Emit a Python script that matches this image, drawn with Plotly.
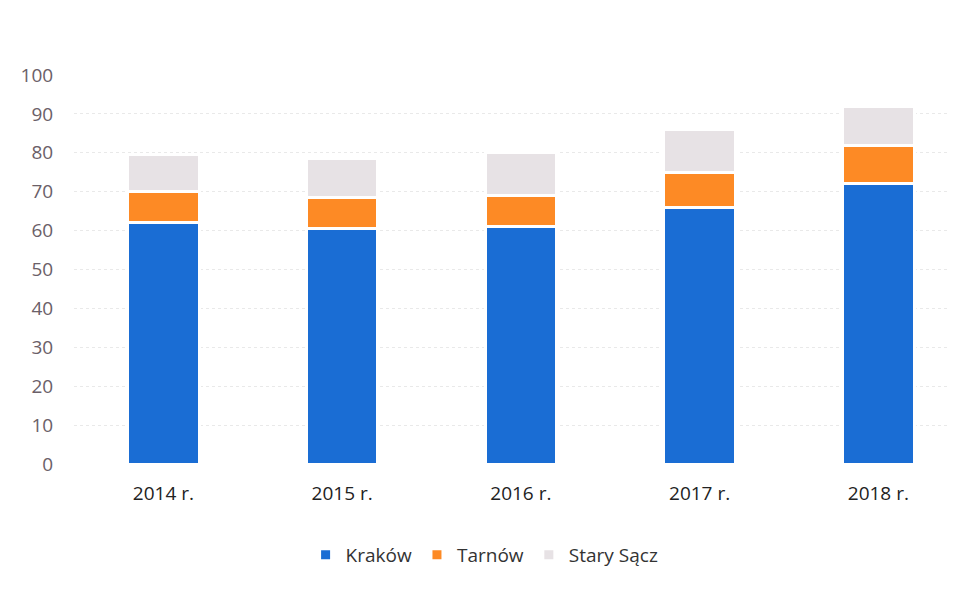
import plotly.graph_objects as go

years = ["2014 r.", "2015 r.", "2016 r.", "2017 r.", "2018 r."]
krakow = [62, 60.5, 61, 66, 72]
tarnow = [8, 8, 8, 9, 10]
stary_sacz = [9.5, 10, 11, 11, 10]

series = [
    ("Kraków", krakow, "#1a6dd4"),
    ("Tarnów", tarnow, "#fd8a25"),
    ("Stary Sącz", stary_sacz, "#e7e2e5"),
]

fig = go.Figure()
for name, vals, col in series:
    fig.add_trace(go.Bar(
        x=years, y=vals, name=name,
        marker=dict(color=col, line=dict(color="white", width=3)),
    ))

font_family = "Open Sans, Noto Sans, sans-serif"
fig.update_layout(
    barmode="stack",
    bargap=0.6,
    width=957, height=589,
    margin=dict(l=66, r=8, t=67, b=133),
    paper_bgcolor="white", plot_bgcolor="white",
    font=dict(family=font_family, size=20, color="#555555"),
    showlegend=True,
    legend=dict(orientation="h", x=0.465, xanchor="center", y=-0.185, yanchor="top",
                font=dict(size=19, color="#333333"), traceorder="normal",
                itemwidth=30),
    xaxis=dict(range=[-0.5, 4.44], showgrid=False, showline=False, zeroline=False,
               tickfont=dict(size=19, color="#222222"), ticks="outside", ticklen=12,
               tickcolor="rgba(0,0,0,0)"),
    yaxis=dict(range=[0, 100], dtick=10, showgrid=True, gridcolor="#e9e9e9",
               griddash="dot", gridwidth=1, zeroline=False, showline=False,
               tickfont=dict(size=19, color="#6b6068"), ticks="outside", ticklen=16,
               tickcolor="rgba(0,0,0,0)"),
)

fig.write_html("out.html")
